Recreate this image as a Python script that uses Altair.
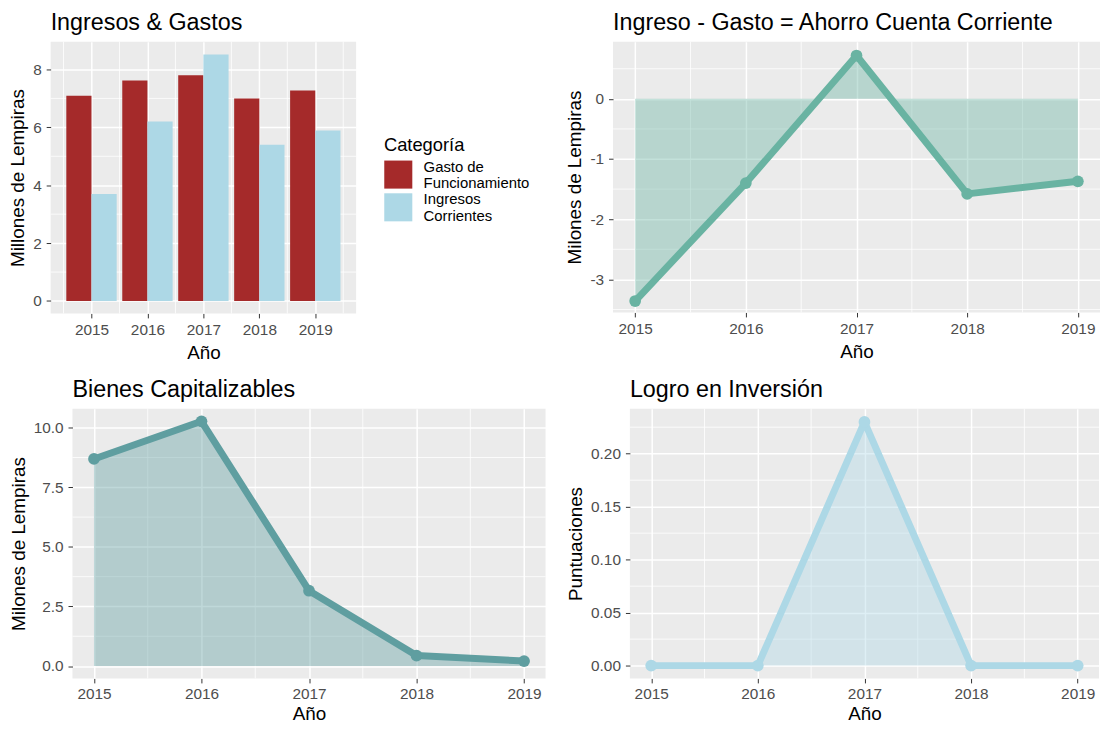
import altair as alt
import pandas as pd

# ---------------- data ----------------
years = [2015, 2016, 2017, 2018, 2019]
categorias = ["Gasto de Funcionamiento", "Ingresos Corrientes"]
gasto = [7.09, 7.62, 7.80, 7.00, 7.27]
ingresos = [3.70, 6.20, 8.52, 5.40, 5.89]
ahorro = [-3.36, -1.40, 0.72, -1.58, -1.37]
bienes = [8.69, 10.27, 3.16, 0.44, 0.21]
logro = [0.0, 0.0, 0.23, 0.0, 0.0]

year_ticks = [2015, 2016, 2017, 2018, 2019]
minor_x_bar = [2014.5, 2015.5, 2016.5, 2017.5, 2018.5, 2019.5]
minor_x = [2015.5, 2016.5, 2017.5, 2018.5]
ticks_bar = [0, 2, 4, 6, 8]
minor_y_bar = [1, 3, 5, 7]
ticks_ahorro = [-3, -2, -1, 0]
minor_y_ahorro = [-3.5, -2.5, -1.5, -0.5, 0.5]
ticks_bienes = [0, 2.5, 5, 7.5, 10]
minor_y_bienes = [1.25, 3.75, 6.25, 8.75]
ticks_logro = [0, 0.05, 0.10, 0.15, 0.20]
minor_y_logro = [0.025, 0.075, 0.125, 0.175, 0.225]

FONT = "Liberation Sans"
GRID_MINOR_W = 0.8
LINE_W = 7
POINT_SIZE = 140

bar_df = pd.DataFrame({
    "Año": years * 2,
    "Categoria": [categorias[0]] * 5 + [categorias[1]] * 5,
    "valor": gasto + ingresos,
})


def minor_layers(xvals, yvals, xsc, ysc, xax, yax):
    v = alt.Chart(pd.DataFrame({"mx": xvals})).mark_rule(
        color="white", strokeWidth=GRID_MINOR_W
    ).encode(x=alt.X("mx:Q", scale=xsc, axis=xax, title="Año"))
    h = alt.Chart(pd.DataFrame({"my": yvals})).mark_rule(
        color="white", strokeWidth=GRID_MINOR_W
    ).encode(y=alt.Y("my:Q", scale=ysc, axis=yax, title=yax.title))
    return [v, h]


def make_xaxis(label_pad=5, title_pad=5):
    return alt.Axis(values=year_ticks, format="d", title="Año", labelFlush=False,
                    labelPadding=label_pad, titlePadding=title_pad)


# ---------------- panel 1: bars ----------------
x1s = alt.Scale(domain=[2014.27, 2019.73], nice=False, zero=False)
y1s = alt.Scale(domain=[-0.43, 8.96], nice=False, zero=False)
x1a = make_xaxis()
y1a = alt.Axis(values=ticks_bar, title="Millones de Lempiras")

bars = alt.Chart(bar_df).transform_calculate(
    x0="datum['Año'] + (datum.Categoria == 'Gasto de Funcionamiento' ? -0.45 : 0)"
).transform_calculate(
    x1="datum.x0 + 0.45"
).mark_rect().encode(
    x=alt.X("x0:Q", scale=x1s, axis=x1a, title="Año"),
    x2="x1:Q",
    y=alt.Y("valor:Q", scale=y1s, axis=y1a, title="Millones de Lempiras"),
    y2=alt.datum(0),
    color=alt.Color(
        "Categoria:N",
        scale=alt.Scale(domain=categorias, range=["#A52A2A", "#ADD8E6"]),
        legend=alt.Legend(
            title="Categoría", orient="none", legendX=336, legendY=95,
            symbolType="square", symbolSize=800, symbolStrokeWidth=0,
            symbolOpacity=1, padding=0,
            labelExpr="[substring(datum.label, 0, lastindexof(datum.label, ' ')), substring(datum.label, lastindexof(datum.label, ' ') + 1)]",
            labelFont=FONT, labelFontSize=15, labelColor="black", labelOffset=11,
            labelBaseline="bottom",
            titleFont=FONT, titleFontSize=18.5, titleFontWeight="normal",
            titleColor="black", titlePadding=6, rowPadding=0,
        ),
    ),
)
p1 = alt.layer(*minor_layers(minor_x_bar, minor_y_bar, x1s, y1s, x1a, y1a), bars).properties(
    width=308, height=274, title="Ingresos & Gastos"
)


def line_panel(values, ytitle, ydomain, yticks, yminor, color, title, w, h, labexpr,
               label_pad=5, title_pad=5):
    df = pd.DataFrame({"Año": years, "valor": values})
    xs = alt.Scale(domain=[2014.8, 2019.2], nice=False, zero=False)
    ys = alt.Scale(domain=ydomain, nice=False, zero=False)
    xa = make_xaxis(label_pad, title_pad)
    ya = alt.Axis(values=yticks, title=ytitle, labelExpr=labexpr, labelFlush=False)
    base = alt.Chart(df).encode(
        x=alt.X("Año:Q", scale=xs, axis=xa, title="Año"),
        y=alt.Y("valor:Q", scale=ys, axis=ya, title=ytitle),
    )
    area = base.mark_area(color=color, opacity=0.4).encode(y2=alt.datum(0))
    line = base.mark_line(color=color, strokeWidth=LINE_W, strokeJoin="round", strokeCap="round")
    pts = base.mark_circle(color=color, size=POINT_SIZE, opacity=1)
    return alt.layer(*minor_layers(minor_x, yminor, xs, ys, xa, ya), area, line, pts).properties(
        width=w, height=h, title=title
    )


p2 = line_panel(ahorro, "Milones de Lempiras", [-3.55, 0.95], ticks_ahorro, minor_y_ahorro,
                "#69B3A2", "Ingreso - Gasto = Ahorro Cuenta Corriente", 491, 273,
                "'' + datum.value")
p3 = line_panel(bienes, "Milones de Lempiras", [-0.52, 10.8], ticks_bienes, minor_y_bienes,
                "#5F9EA0", "Bienes Capitalizables", 477, 272,
                "format(datum.value, '.1f')", label_pad=4, title_pad=2)
p4 = line_panel(logro, "Puntuaciones", [-0.0121, 0.2425], ticks_logro, minor_y_logro,
                "#ADD8E6", "Logro en Inversión", 473, 272,
                "format(datum.value, '.2f')", label_pad=4, title_pad=2)

# invisible 1px spacer that shifts the lower row slightly to the right
spacer = alt.Chart(pd.DataFrame({"s": [0]})).mark_point(opacity=0).encode(
    x=alt.X("s:Q", axis=None), y=alt.Y("s:Q", axis=None)
).properties(width=1, height=1, view=alt.ViewBackground(fill="transparent", strokeWidth=0))

row1 = alt.hconcat(p1, p2, spacing=210)
row2 = alt.hconcat(spacer, alt.hconcat(p3, p4, spacing=20), spacing=21, bounds="flush")

chart = alt.vconcat(row1, row2, spacing=16).properties(
    padding={"left": 0, "top": 0, "right": 0, "bottom": 0},
    background="white",
).configure_view(
    fill="#EBEBEB", stroke=None, strokeWidth=0
).configure_axis(
    grid=True, gridColor="white", gridWidth=1.5, domain=False,
    tickColor="#333333", tickSize=4.5, tickWidth=1,
    labelFont=FONT, labelFontSize=15.5, labelColor="#4D4D4D", labelPadding=5,
    titleFont=FONT, titleFontSize=19, titleFontWeight="normal", titleColor="black",
    titlePadding=5,
).configure_title(
    font=FONT, fontSize=23.5, fontWeight="normal", anchor="start", frame="group",
    color="black", offset=7, baseline="bottom",
)

chart.save("out.html", embed_options={"renderer": "svg", "actions": False})
